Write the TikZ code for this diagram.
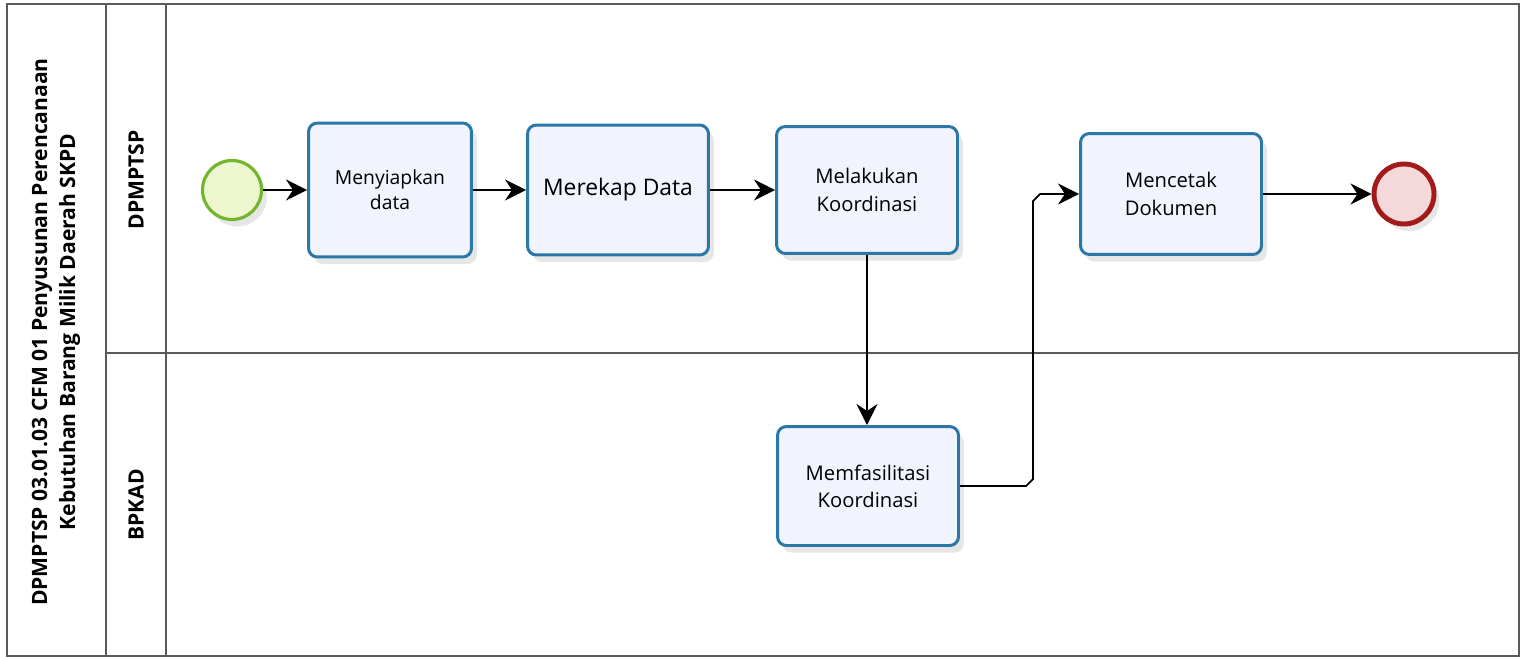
\documentclass[tikz,border=0pt]{standalone}
\usepackage{fontspec}
\setmainfont{Open Sans}
\usetikzlibrary{arrows.meta,shadows}
\definecolor{laneline}{HTML}{5A5A5A}
\definecolor{taskline}{HTML}{2B78A8}
\definecolor{taskfill}{HTML}{F1F3FD}
\definecolor{startline}{HTML}{74B52E}
\definecolor{startfill}{HTML}{EEF6CF}
\definecolor{endline}{HTML}{A31A1A}
\definecolor{endfill}{HTML}{F5D8DA}

\begin{document}
\begin{tikzpicture}[x=0.02cm, y=-0.02cm, lane/.style={draw=laneline, line width=1.1pt}, task/.style={draw=taskline, line width=1.7pt, fill=taskfill, rounded corners=5pt, align=center, minimum width=3.62cm, font=\fontsize{11.5}{15.5}\selectfont, drop shadow={opacity=.2, shadow xshift=3pt, shadow yshift=-4pt}}, flow/.style={draw=black, line width=1pt, -{Stealth[length=12pt, width=12pt, inset=4pt]}}]
			\useasboundingbox (0,0) rectangle (1521,659);
			\draw[lane] (7,4) rectangle (1519,656);
			\draw[lane] (106,4) -- (106,656);
			\draw[lane] (166,4) -- (166,656);
			\draw[lane] (106,353) -- (1519,353);
			\node[rotate=90, align=center, font=\fontsize{12}{16}\selectfont\bfseries] (title) at (56,332) {DPMPTSP 03.01.03 CFM 01 Penyusunan Perencanaan\\Kebutuhan Barang Milik Daerah SKPD};
			\node[rotate=90, font=\fontsize{12}{14}\selectfont\bfseries] (laneA) at (136,180) {DPMPTSP};
			\node[rotate=90, font=\fontsize{12}{14}\selectfont\bfseries] (laneB) at (136,505) {BPKAD};
			\node[circle, draw=startline, fill=startfill, line width=1.8pt, minimum size=1.18cm, drop shadow={opacity=.2, shadow xshift=3pt, shadow yshift=-4pt}] (start) at (232,190) {};
			\node[task, minimum width=3.26cm, minimum height=2.68cm, font=\fontsize{11}{14.5}\selectfont] (prep) at (390,190) {Menyiapkan\\data};
			\node[task, minimum height=2.6cm, font=\fontsize{13}{16}\selectfont] (rekap) at (618,190) {Merekap Data};
			\node[task, minimum height=2.54cm] (koord) at (867,190) {Melakukan\\Koordinasi};
			\node[task, minimum height=2.42cm] (cetak) at (1171,194) {Mencetak\\Dokumen};
			\node[circle, draw=endline, fill=endfill, line width=2.8pt, minimum size=1.2cm, drop shadow={opacity=.2, shadow xshift=3pt, shadow yshift=-4pt}] (end) at (1404,194) {};
			\node[task, minimum height=2.38cm] (fasil) at (868,486) {Memfasilitasi\\Koordinasi};
			\draw[flow] (start) -- (prep);
			\draw[flow] (prep) -- (rekap);
			\draw[flow] (rekap) -- (koord);
			\draw[flow] (koord.south) -- (koord.south |- fasil.north);
			\draw[flow] (fasil.east) -- (1026,486) -- (1033,479) -- (1033,201) -- (1040,194) -- (cetak.west);
			\draw[flow] (cetak) -- (end);
			\end{tikzpicture}
\end{document}
